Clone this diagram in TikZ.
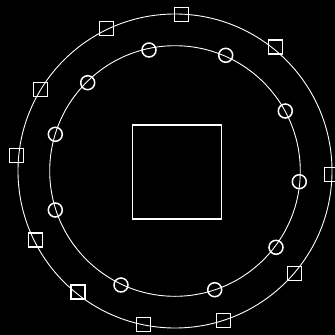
\documentclass[tikz,border=0pt]{standalone}
\begin{document}
\begin{tikzpicture}[x=1pt,y=-1pt,
  ring/.style={draw=white,line width=0.9pt},
  sq/.style={draw=white,line width=1.5pt,minimum size=14pt,inner sep=0pt,rectangle},
  ci/.style={draw=white,line width=1.5pt,minimum size=14pt,inner sep=0pt,circle},
  core/.style={draw=white,line width=1.6pt,minimum width=89pt,minimum height=94pt,inner sep=0pt,rectangle}]
\fill[black] (0,0) rectangle (335,335);
\useasboundingbox (0,0) rectangle (335,335);
\coordinate (c) at (175,171);
\draw[ring] (c) circle[radius=157];
\draw[ring] (c) circle[radius=125.3];
\node[core] (box) at (176.8,171.8) {};
\node[sq] (s1) at (181.7,14.3) {};
\node[sq] (s2) at (106.3,28.3) {};
\node[sq] (s3) at (275.7,47) {};
\node[sq] (s4) at (40.3,89.7) {};
\node[sq] (s5) at (16.7,155.7) {};
\node[sq] (s6) at (331.7,174.3) {};
\node[sq] (s7) at (35.7,240) {};
\node[sq] (s8) at (294.3,273.3) {};
\node[sq] (s9) at (78,292) {};
\node[sq] (s10) at (143.7,324.7) {};
\node[sq] (s11) at (223.7,320.3) {};
\node[ci] (c1) at (149,50) {};
\node[ci] (c2) at (225.7,55.3) {};
\node[ci] (c3) at (87.7,82.7) {};
\node[ci] (c4) at (285.3,111) {};
\node[ci] (c5) at (55.3,134.3) {};
\node[ci] (c6) at (299.3,181.7) {};
\node[ci] (c7) at (55.3,210) {};
\node[ci] (c8) at (276,247.3) {};
\node[ci] (c9) at (121,285) {};
\node[ci] (c10) at (214.7,289.7) {};
\end{tikzpicture}
\end{document}
